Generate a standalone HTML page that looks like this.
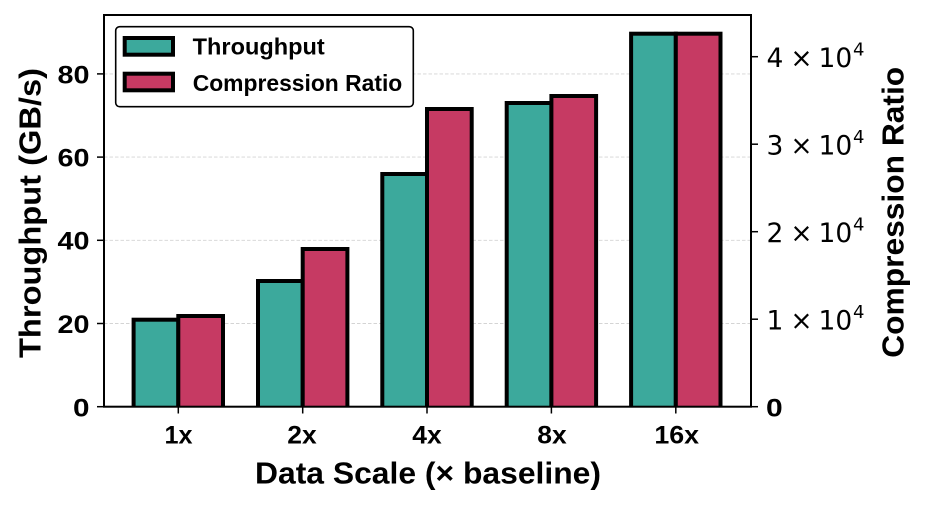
<!DOCTYPE html>
<html>
<head>
<meta charset="utf-8">
<style>
html,body{margin:0;padding:0;background:#fff;}
svg{display:block;}
.b{font-family:"Liberation Sans","DejaVu Sans",sans-serif;font-weight:bold;fill:#000;}
.m{font-family:"DejaVu Sans","Liberation Sans",sans-serif;fill:#000;}
</style>
</head>
<body>
<svg width="927" height="507" viewBox="0 0 927 507" xmlns="http://www.w3.org/2000/svg">
<defs>
<clipPath id="ax"><rect x="104" y="15" width="647" height="391.7"/></clipPath>
</defs>
<rect x="0" y="0" width="927" height="507" fill="#fff"/>

<!-- gridlines -->
<g stroke="#d4d4d4" stroke-width="0.9" stroke-dasharray="3.5,2">
<line x1="104" y1="73.9" x2="751" y2="73.9"/>
<line x1="104" y1="157.1" x2="751" y2="157.1"/>
<line x1="104" y1="240.3" x2="751" y2="240.3"/>
<line x1="104" y1="323.5" x2="751" y2="323.5"/>
</g>

<!-- bars -->
<g clip-path="url(#ax)" stroke="#000" stroke-width="4">
<g fill="#3ca99c">
<rect x="133.6" y="319.7" width="44.7" height="90"/>
<rect x="258.0" y="281" width="44.7" height="130"/>
<rect x="382.3" y="174" width="44.7" height="240"/>
<rect x="506.7" y="103" width="44.7" height="310"/>
<rect x="631.1" y="33.7" width="44.7" height="380"/>
</g>
<g fill="#c63a63">
<rect x="178.3" y="316" width="44.7" height="95"/>
<rect x="302.7" y="249" width="44.7" height="160"/>
<rect x="427" y="109" width="44.7" height="300"/>
<rect x="551.4" y="96" width="44.7" height="315"/>
<rect x="675.8" y="33.7" width="44.7" height="380"/>
</g>
</g>

<!-- spines -->
<rect x="104" y="15" width="647" height="391.7" fill="none" stroke="#000" stroke-width="2"/>

<!-- ticks -->
<g stroke="#000" stroke-width="1.5">
<line x1="97" y1="73.9" x2="104" y2="73.9"/>
<line x1="97" y1="157.1" x2="104" y2="157.1"/>
<line x1="97" y1="240.3" x2="104" y2="240.3"/>
<line x1="97" y1="323.5" x2="104" y2="323.5"/>
<line x1="97" y1="406.7" x2="104" y2="406.7"/>
<line x1="751" y1="56.7" x2="758" y2="56.7"/>
<line x1="751" y1="144.2" x2="758" y2="144.2"/>
<line x1="751" y1="231.7" x2="758" y2="231.7"/>
<line x1="751" y1="319.2" x2="758" y2="319.2"/>
<line x1="751" y1="406.7" x2="758" y2="406.7"/>
<line x1="178.3" y1="406.7" x2="178.3" y2="413.5"/>
<line x1="302.7" y1="406.7" x2="302.7" y2="413.5"/>
<line x1="427" y1="406.7" x2="427" y2="413.5"/>
<line x1="551.4" y1="406.7" x2="551.4" y2="413.5"/>
<line x1="675.8" y1="406.7" x2="675.8" y2="413.5"/>
</g>

<!-- left tick labels -->
<g class="b" font-size="25" text-anchor="end">
<text x="89.5" y="83.3" textLength="32" lengthAdjust="spacingAndGlyphs">80</text>
<text x="89.5" y="166.5" textLength="32" lengthAdjust="spacingAndGlyphs">60</text>
<text x="89.5" y="249.7" textLength="32" lengthAdjust="spacingAndGlyphs">40</text>
<text x="89.5" y="332.9" textLength="32" lengthAdjust="spacingAndGlyphs">20</text>
<text x="89.5" y="416.3" textLength="16.5" lengthAdjust="spacingAndGlyphs">0</text>
</g>

<!-- right tick labels -->
<g class="m" font-size="26.5">
<text x="766.5" y="67.2">4</text><text x="801.5" y="67.2" text-anchor="middle">×</text><text x="818.5" y="67.2">10</text><text x="853" y="55.5" font-size="18">4</text>
<text x="766.5" y="154.7">3</text><text x="801.5" y="154.7" text-anchor="middle">×</text><text x="818.5" y="154.7">10</text><text x="853" y="143" font-size="18">4</text>
<text x="766.5" y="242.2">2</text><text x="801.5" y="242.2" text-anchor="middle">×</text><text x="818.5" y="242.2">10</text><text x="853" y="230.5" font-size="18">4</text>
<text x="766.5" y="329.7">1</text><text x="801.5" y="329.7" text-anchor="middle">×</text><text x="818.5" y="329.7">10</text><text x="853" y="318" font-size="18">4</text>
</g>
<text class="b" x="766" y="416.3" font-size="25" textLength="16.7" lengthAdjust="spacingAndGlyphs">0</text>

<!-- x tick labels -->
<g class="b" font-size="25" text-anchor="middle">
<text x="178.5" y="443.3" textLength="28" lengthAdjust="spacingAndGlyphs">1x</text>
<text x="302" y="443.3" textLength="29.4" lengthAdjust="spacingAndGlyphs">2x</text>
<text x="427" y="443.3" textLength="29.4" lengthAdjust="spacingAndGlyphs">4x</text>
<text x="552" y="443.3" textLength="29.4" lengthAdjust="spacingAndGlyphs">8x</text>
<text x="676.7" y="443.3" textLength="44.7" lengthAdjust="spacingAndGlyphs">16x</text>
</g>

<!-- axis labels -->
<text class="b" x="428" y="483.3" font-size="31" text-anchor="middle" textLength="346" lengthAdjust="spacingAndGlyphs">Data Scale (× baseline)</text>
<text class="b" transform="translate(40.5,213) rotate(-90)" font-size="31" text-anchor="middle" textLength="290" lengthAdjust="spacingAndGlyphs">Throughput (GB/s)</text>
<text class="b" transform="translate(903.5,212.3) rotate(-90)" font-size="31" text-anchor="middle" textLength="291" lengthAdjust="spacingAndGlyphs">Compression Ratio</text>

<!-- legend -->
<rect x="115.7" y="26.7" width="297.6" height="80" rx="4" ry="4" fill="#fff" stroke="#000" stroke-width="1.6"/>
<rect x="124.7" y="38" width="48.3" height="16.7" fill="#3ca99c" stroke="#000" stroke-width="4"/>
<rect x="124.7" y="73.7" width="48.3" height="16.6" fill="#c63a63" stroke="#000" stroke-width="4"/>
<g class="b" font-size="23">
<text x="192.7" y="54.3" textLength="132" lengthAdjust="spacingAndGlyphs">Throughput</text>
<text x="192.7" y="91" textLength="209.6" lengthAdjust="spacingAndGlyphs">Compression Ratio</text>
</g>
</svg>
</body>
</html>
